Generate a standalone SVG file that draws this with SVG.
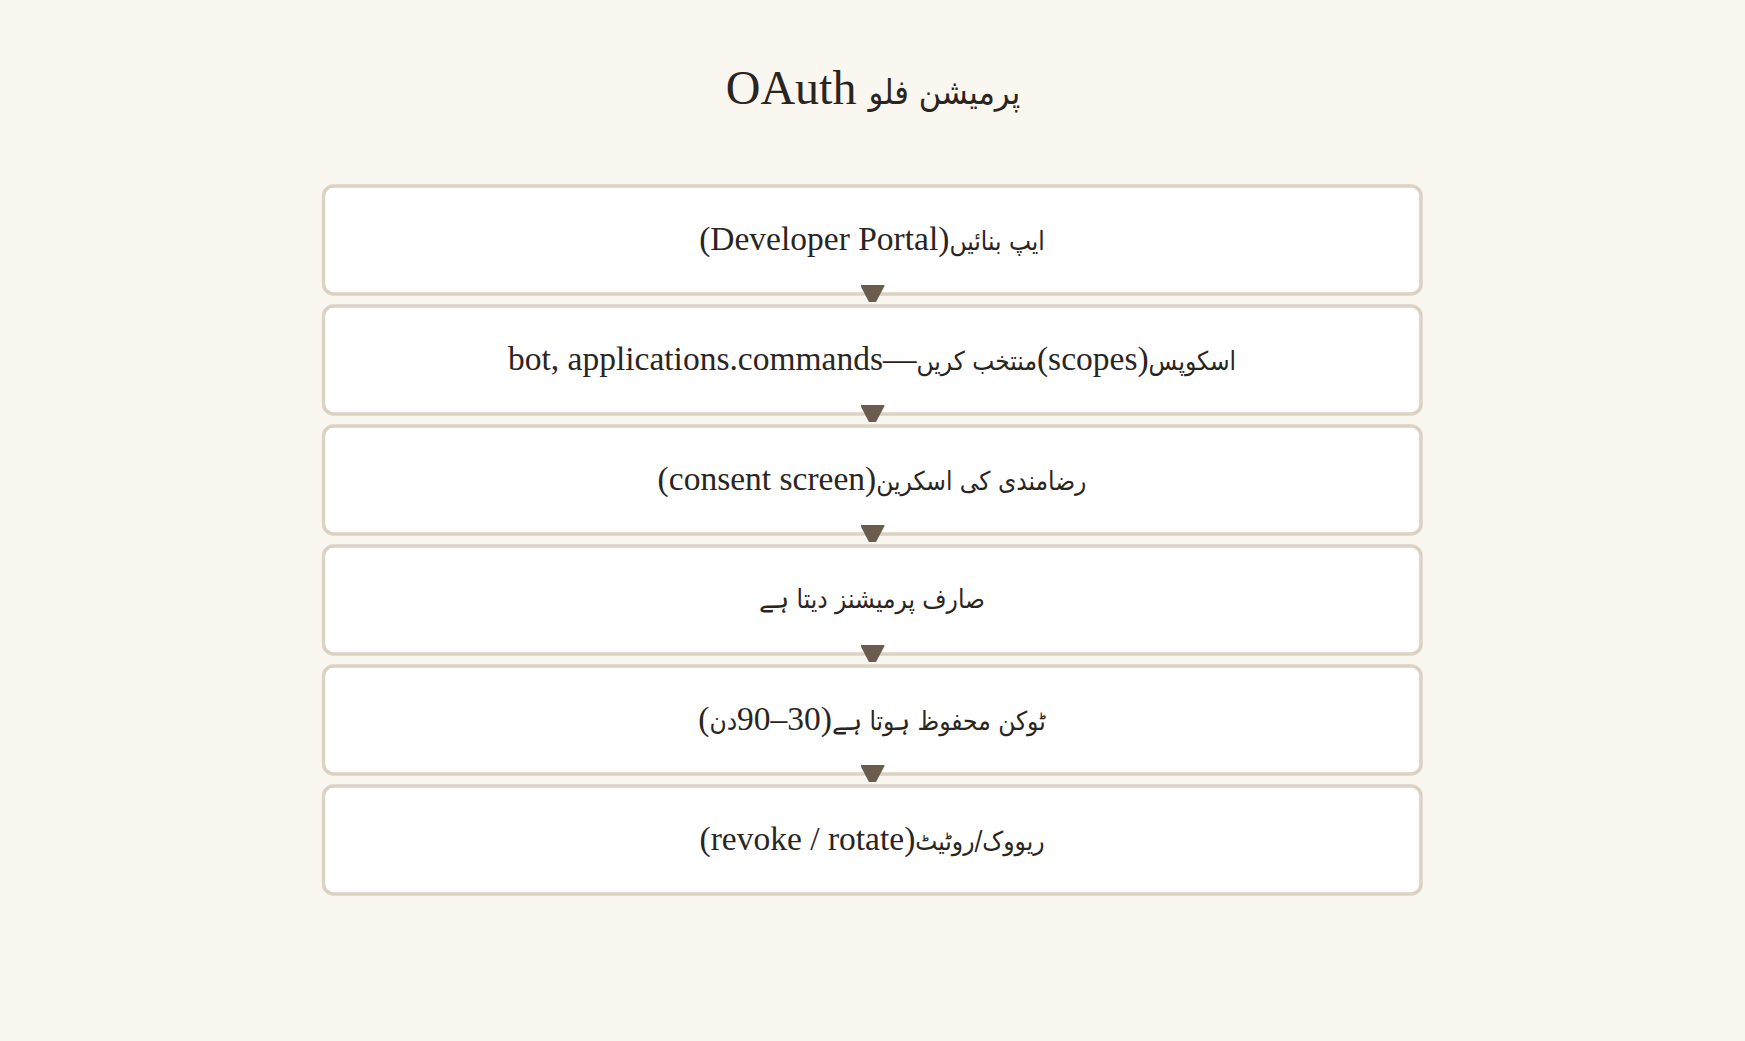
<svg xmlns="http://www.w3.org/2000/svg" width="1745" height="1041" viewBox="0 0 1745 1041">
<style>
.bg{fill:#faf6f0}
.box{fill:#ffffff;stroke:#dbd2c3;stroke-width:3.5}
.lbl{font-family:"Liberation Serif","DejaVu Sans",serif;font-size:33.5px;fill:#2a251f;text-anchor:middle;direction:rtl;unicode-bidi:embed}
.title{font-family:"Liberation Serif","DejaVu Sans",serif;font-size:48px;fill:#2a251f;text-anchor:middle}
.ur{font-family:"DejaVu Sans","Liberation Serif",serif;font-size:26px;font-stretch:condensed}
.urt{font-family:"DejaVu Sans","Liberation Serif",serif;font-size:34px;font-stretch:condensed}
.conn{fill:none;stroke:none}
</style>
<defs>
<marker id="arr" viewBox="0 0 17 24" markerWidth="17" markerHeight="24" markerUnits="userSpaceOnUse" refX="17" refY="12" orient="auto">
<path d="M0.8,0.8 L16.5,9 L16.5,15 L0.8,23.2 Z" fill="#6b5d4e" stroke="#6b5d4e" stroke-width="1.5" stroke-linejoin="round"/>
</marker>
</defs>
<rect class="bg" x="0" y="0" width="1745" height="1041"/>
<text class="title" x="873" y="104">OAuth <tspan class="urt">پرمیشن فلو</tspan></text>
<g id="node1"><rect class="box" x="323.5" y="186" width="1097.5" height="108" rx="10"/><text class="lbl" x="872" y="250"><tspan class="ur">ایپ بنائیں</tspan>(Developer Portal)</text></g>
<g id="node2"><rect class="box" x="323.5" y="306" width="1097.5" height="108" rx="10"/><text class="lbl" x="872" y="370"><tspan class="ur">اسکوپس</tspan>(scopes)<tspan class="ur">منتخب کریں</tspan>—bot, applications.commands</text></g>
<g id="node3"><rect class="box" x="323.5" y="426" width="1097.5" height="108" rx="10"/><text class="lbl" x="872" y="490"><tspan class="ur">رضامندی کی اسکرین</tspan>(consent screen)</text></g>
<g id="node4"><rect class="box" x="323.5" y="546" width="1097.5" height="108" rx="10"/><text class="lbl" x="872" y="608"><tspan class="ur">صارف پرمیشنز دیتا ہے</tspan></text></g>
<g id="node5"><rect class="box" x="323.5" y="666" width="1097.5" height="108" rx="10"/><text class="lbl" x="872" y="730"><tspan class="ur">ٹوکن محفوظ ہوتا ہے</tspan>(30–90<tspan class="ur">دن</tspan>)</text></g>
<g id="node6"><rect class="box" x="323.5" y="786" width="1097.5" height="108" rx="10"/><text class="lbl" x="872" y="850"><tspan class="ur">ریووک/روٹیٹ</tspan>(revoke / rotate)</text></g>
<g id="connectors">
<path class="conn" d="M872.5,280 L872.5,302" marker-end="url(#arr)"/>
<path class="conn" d="M872.5,400 L872.5,422" marker-end="url(#arr)"/>
<path class="conn" d="M872.5,520 L872.5,542" marker-end="url(#arr)"/>
<path class="conn" d="M872.5,640 L872.5,662" marker-end="url(#arr)"/>
<path class="conn" d="M872.5,760 L872.5,782" marker-end="url(#arr)"/>
</g>
</svg>
